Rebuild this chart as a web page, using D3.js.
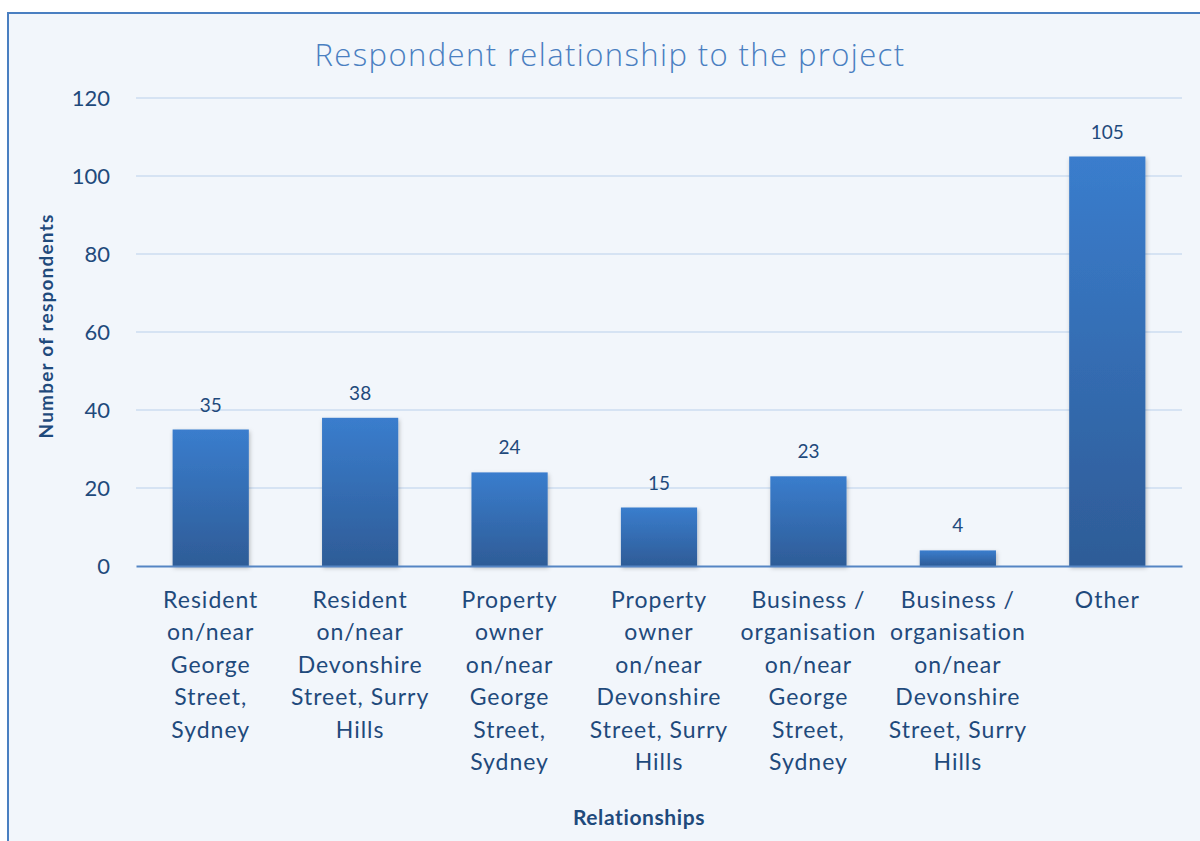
<!DOCTYPE html>
<html>
<head>
<meta charset="utf-8">
<script src="https://cdn.jsdelivr.net/npm/d3@7"></script>
<style>
  body { margin: 0; background: #ffffff; }
  #chart { width: 1200px; height: 841px; }
  text { font-family: Lato, "Open Sans", sans-serif; }
</style>
</head>
<body>
<div id="chart"></div>
<script>
// Chart data
const categories = [
    "Resident\non/near\nGeorge\nStreet,\nSydney",
    "Resident\non/near\nDevonshire\nStreet, Surry\nHills",
    "Property\nowner\non/near\nGeorge\nStreet,\nSydney",
    "Property\nowner\non/near\nDevonshire\nStreet, Surry\nHills",
    "Business /\norganisation\non/near\nGeorge\nStreet,\nSydney",
    "Business /\norganisation\non/near\nDevonshire\nStreet, Surry\nHills",
    "Other"
];
const values = [35, 38, 24, 15, 23, 4, 105];
const yTicks = [0, 20, 40, 60, 80, 100, 120];

const W = 1200, H = 841;
const margin = { top: 98, right: 18, bottom: 275, left: 136 };
const width = W - margin.left - margin.right;
const height = H - margin.top - margin.bottom;

const svg = d3.select("#chart")
    .append("svg")
    .attr("width", W)
    .attr("height", H);

// Gradient + shadow
const defs = svg.append("defs");
const grad = defs.append("linearGradient")
    .attr("id", "barGrad")
    .attr("x1", 0).attr("y1", 0).attr("x2", 0).attr("y2", 1);
grad.append("stop").attr("offset", "0%").attr("stop-color", "#3a7dcd");
grad.append("stop").attr("offset", "100%").attr("stop-color", "#2e5c97");

const shadow = defs.append("filter").attr("id", "shadow")
    .attr("x", "-20%").attr("y", "-10%").attr("width", "140%").attr("height", "120%");
shadow.append("feDropShadow")
    .attr("dx", 1).attr("dy", 2).attr("stdDeviation", 2)
    .attr("flood-color", "#000").attr("flood-opacity", 0.25);

// Chart area background and border
svg.append("rect")
    .attr("x", 8).attr("y", 13)
    .attr("width", W + 10).attr("height", H + 10)
    .attr("fill", "#f2f6fb")
    .attr("stroke", "#4a7fc1")
    .attr("stroke-width", 2);

const g = svg.append("g")
    .attr("transform", `translate(${margin.left},${margin.top})`);

// Scales
const xScale = d3.scaleBand()
    .domain(categories)
    .range([0, width])
    .paddingInner(0.49)
    .paddingOuter(0.245);
const yScale = d3.scaleLinear().domain([0, 120]).range([height, 0]);

// Gridlines
g.selectAll(".grid")
    .data(yTicks.filter(d => d > 0))
    .enter().append("line")
    .attr("x1", 0).attr("x2", width)
    .attr("y1", d => yScale(d)).attr("y2", d => yScale(d))
    .attr("stroke", "#d6e3f3")
    .attr("stroke-width", 2);

// Y axis
const yAxis = g.append("g")
    .call(d3.axisLeft(yScale).tickValues(yTicks).tickSize(0).tickPadding(26));
yAxis.select(".domain").remove();
yAxis.selectAll("text")
    .attr("fill", "#1f4a7c")
    .style("font-size", "22px")
    .style("font-family", "Lato, sans-serif");

// Bars
g.selectAll(".bar")
    .data(values)
    .enter().append("rect")
    .attr("class", "bar")
    .attr("x", (d, i) => xScale(categories[i]))
    .attr("y", d => yScale(d))
    .attr("width", xScale.bandwidth())
    .attr("height", d => height - yScale(d))
    .attr("fill", "url(#barGrad)")
    .attr("filter", "url(#shadow)");

// Value labels
g.selectAll(".val")
    .data(values)
    .enter().append("text")
    .attr("x", (d, i) => xScale(categories[i]) + xScale.bandwidth() / 2)
    .attr("y", d => yScale(d) - 18)
    .attr("text-anchor", "middle")
    .attr("fill", "#1f4a7c")
    .style("font-size", "19px")
    .text(d => d);

// X axis
const xAxis = g.append("g")
    .attr("transform", `translate(0,${height})`)
    .call(d3.axisBottom(xScale).tickSize(0).tickFormat(""));
xAxis.select(".domain").attr("stroke", "#5585c4").attr("stroke-width", 2);

xAxis.selectAll(".tick").each(function(d) {
    const t = d3.select(this).append("text")
        .attr("text-anchor", "middle")
        .attr("fill", "#1f4a7c")
        .style("font-size", "23px")
        .style("letter-spacing", "1px");
    d.split("\n").forEach((line, i) => {
        t.append("tspan")
            .attr("x", 0)
            .attr("y", 42 + i * 32.4)
            .text(line);
    });
});

// Title
svg.append("text")
    .attr("x", 610)
    .attr("y", 66)
    .attr("text-anchor", "middle")
    .attr("fill", "#4a7fc1")
    .style("font-family", "'Open Sans', sans-serif")
    .style("font-weight", 300)
    .style("font-size", "31px")
    .style("letter-spacing", "1.4px")
    .text("Respondent relationship to the project");

// Axis titles
svg.append("text")
    .attr("transform", `translate(53,326) rotate(-90)`)
    .attr("text-anchor", "middle")
    .attr("fill", "#1f4a7c")
    .style("font-weight", "bold")
    .style("font-size", "19px")
    .style("letter-spacing", "1.2px")
    .text("Number of respondents");

svg.append("text")
    .attr("x", 639)
    .attr("y", 825)
    .attr("text-anchor", "middle")
    .attr("fill", "#1f4a7c")
    .style("font-weight", "bold")
    .style("font-size", "21px")
    .style("letter-spacing", "0.6px")
    .text("Relationships");
</script>
</body>
</html>
